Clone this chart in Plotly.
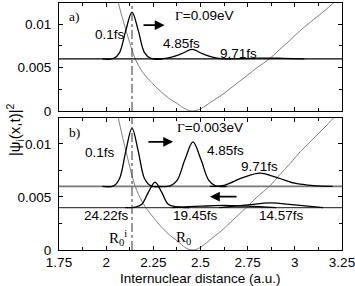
import plotly.graph_objects as go

# ---------------- data ----------------
R_pot = [2.06, 2.085, 2.11, 2.13, 2.153, 2.195, 2.24, 2.285, 2.33, 2.375, 2.40, 2.42, 2.44,
         2.46, 2.48, 2.50, 2.53, 2.566, 2.61, 2.656, 2.70, 2.746, 2.80, 2.868, 2.92, 2.974,
         3.03, 3.096, 3.16, 3.223, 3.25]
V_pot = [0.0128, 0.0108, 0.00895, 0.0075, 0.00605, 0.00442, 0.0033, 0.00233, 0.0015, 0.00088,
         0.0005, 0.00022, 0.00005, 0.0, 0.00008, 0.00025, 0.00065, 0.00118, 0.0018, 0.00256,
         0.0033, 0.00407, 0.005, 0.00605, 0.0071, 0.00814, 0.0093, 0.01047, 0.0116, 0.0128, 0.0133]

x_range = [1.75, 3.25]
base_hi = 0.006
base_lo = 0.004

# panel a) Gamma = 0.09 eV
a_01_R = [1.98, 2.04, 2.071, 2.104, 2.137, 2.170, 2.203, 2.237, 2.30]
a_01_V = [0.006, 0.00605, 0.00673, 0.00928, 0.0114, 0.00928, 0.00673, 0.00605, 0.006]
a_485_R = [2.25, 2.33, 2.40, 2.455, 2.51, 2.58, 2.66]
a_485_V = [0.006, 0.00612, 0.0066, 0.0071, 0.0066, 0.00612, 0.006]
a_971_R = [2.65, 2.78, 2.86, 2.94, 3.05]
a_971_V = [0.006, 0.00606, 0.0061, 0.00606, 0.006]

# panel b) Gamma = 0.003 eV
b_01_R = [1.98, 2.04, 2.071, 2.104, 2.137, 2.170, 2.203, 2.237, 2.30]
b_01_V = [0.006, 0.00605, 0.00675, 0.00933, 0.0115, 0.00933, 0.00675, 0.00605, 0.006]
b_485_R = [2.28, 2.34, 2.376, 2.418, 2.46, 2.502, 2.544, 2.58, 2.64]
b_485_V = [0.006, 0.00605, 0.00657, 0.00855, 0.0102, 0.00855, 0.00657, 0.00605, 0.006]
b_971_R = [2.55, 2.63, 2.72, 2.815, 2.91, 3.0, 3.1, 3.2]
b_971_V = [0.006, 0.00613, 0.0068, 0.00726, 0.0068, 0.0063, 0.00607, 0.006]
b_1457_R = [2.6, 2.75, 2.87, 3.0, 3.15]
b_1457_V = [0.004, 0.00425, 0.00445, 0.00425, 0.004]
b_1945_R = [2.35, 2.5, 2.62, 2.75, 2.9]
b_1945_V = [0.004, 0.00413, 0.0042, 0.00413, 0.004]
b_2422_R = [2.10, 2.155, 2.189, 2.224, 2.259, 2.294, 2.329, 2.37, 2.44]
b_2422_V = [0.004, 0.00405, 0.00432, 0.00546, 0.00641, 0.00546, 0.00432, 0.00408, 0.004]

R0_i = 2.137
y_tickvals = [0, 0.005, 0.01]
y_ticktext = ["0", "0.005", "0.01"]
x_tickvals = [1.75, 2, 2.25, 2.5, 2.75, 3, 3.25]
x_ticktext = ["1.75", "2", "2.25", "2.5", "2.75", "3", "3.25"]

# ---------------- figure ----------------
fig = go.Figure()
POT = dict(color="#707070", width=0.9)
PK = dict(color="black", width=1.3)

def add(xs, ys, line, xa, ya, shape="spline"):
    fig.add_trace(go.Scatter(x=xs, y=ys, mode="lines", line=dict(shape=shape, **line),
                             xaxis=xa, yaxis=ya, showlegend=False, hoverinfo="skip"))

# top panel (x, y)
add(R_pot, V_pot, POT, "x", "y")
add(x_range, [base_hi, base_hi], dict(color="black", width=1.2), "x", "y", "linear")
add(a_01_R, a_01_V, PK, "x", "y")
add(a_485_R, a_485_V, PK, "x", "y")
add(a_971_R, a_971_V, PK, "x", "y")

# bottom panel (x2, y2)
add(R_pot, V_pot, POT, "x2", "y2")
add(x_range, [base_hi, base_hi], dict(color="#777777", width=1.6), "x2", "y2", "linear")
add(x_range, [base_lo, base_lo], dict(color="#444444", width=1.2), "x2", "y2", "linear")
add(b_01_R, b_01_V, PK, "x2", "y2")
add(b_485_R, b_485_V, PK, "x2", "y2")
add(b_971_R, b_971_V, PK, "x2", "y2")
add(b_1945_R, b_1945_V, PK, "x2", "y2")
add(b_1457_R, b_1457_V, PK, "x2", "y2")
add(b_2422_R, b_2422_V, PK, "x2", "y2")

for xr, yr in (("x", "y"), ("x2", "y2")):
    fig.add_shape(type="line", xref=xr, yref=yr, x0=R0_i, x1=R0_i, y0=0, y1=0.0125,
                  line=dict(color="#333333", width=1, dash="dashdot"))

SANS = "Liberation Sans, Arial, sans-serif"
SERIF = "Liberation Serif, Times New Roman, serif"

def axis_common():
    return dict(showline=True, mirror="ticks", linecolor="black", linewidth=1,
                ticks="inside", ticklen=4, tickcolor="black", tickwidth=1,
                showgrid=False, zeroline=False, automargin=False,
                ticklabeloverflow="allow",
                tickfont=dict(family=SANS, size=13.5, color="black"))

xa = axis_common()
xa.update(range=x_range, tickvals=x_tickvals, ticktext=["", "", "", "", "", "", ""],
          minor=dict(ticks="inside", ticklen=3, dtick=0.125, tick0=1.75, tickcolor="black"),
          anchor="y", domain=[0, 1])
xa2 = axis_common()
xa2.update(range=x_range, tickvals=x_tickvals, ticktext=x_ticktext,
           minor=dict(ticks="inside", ticklen=3, dtick=0.125, tick0=1.75, tickcolor="black"),
           anchor="y2", domain=[0, 1])
ya = axis_common()
ya.update(range=[0, 0.01244], tickvals=y_tickvals, ticktext=y_ticktext,
          minor=dict(ticks="inside", ticklen=3, dtick=0.0025, tick0=0, tickcolor="black"),
          anchor="x", domain=[0.5628, 1], ticklabelstandoff=4)
ya2 = axis_common()
ya2.update(range=[0, 0.01245], tickvals=y_tickvals, ticktext=y_ticktext,
           minor=dict(ticks="inside", ticklen=3, dtick=0.0025, tick0=0, tickcolor="black"),
           anchor="x2", domain=[0, 0.5344], ticklabelstandoff=4)

ann = []
def txt(x, y, s, xr, yr, font=SANS, size=13.5, **kw):
    ann.append(dict(x=x, y=y, xref=xr, yref=yr, text=s, showarrow=False,
                    font=dict(family=font, size=size, color="black"), **kw))

def arrow(x0, y0, x1, y1, xr, yr):
    ann.append(dict(x=x1, y=y1, ax=x0, ay=y0, xref=xr, yref=yr, axref=xr, ayref=yr,
                    text="", showarrow=True, arrowhead=2, arrowsize=1.1, arrowwidth=1.8,
                    arrowcolor="black"))

# top labels
txt(1.795, 0.0109, "a)", "x", "y", font=SERIF, size=13.5, xanchor="left")
txt(2.02, 0.00884, "0.1fs", "x", "y")
txt(2.518, 0.0110, '<span style="font-family:Liberation Serif">Γ</span>=0.09eV', "x", "y")
txt(2.40, 0.0078, "4.85fs", "x", "y")
txt(2.70, 0.00663, "9.71fs", "x", "y")
arrow(2.19, 0.00989, 2.31, 0.00989, "x", "y")

# bottom labels
txt(1.795, 0.0111, "b)", "x2", "y2", font=SERIF, size=13.5, xanchor="left")
txt(1.967, 0.00924, "0.1fs", "x2", "y2")
txt(2.55, 0.0116, '<span style="font-family:Liberation Serif">Γ</span>=0.003eV', "x2", "y2")
txt(2.635, 0.00943, "4.85fs", "x2", "y2")
txt(2.813, 0.00783, "9.71fs", "x2", "y2")
txt(2.0, 0.0033, "24.22fs", "x2", "y2")
txt(2.475, 0.0033, "19.45fs", "x2", "y2")
txt(2.927, 0.0033, "14.57fs", "x2", "y2")
txt(2.065, 0.0011, "R<sub>0</sub><sup>i</sup>", "x2", "y2", font=SERIF, size=15)
txt(2.41, 0.0011, "R<sub>0</sub>", "x2", "y2", font=SERIF, size=15)
arrow(2.216, 0.0102, 2.355, 0.0102, "x2", "y2")
arrow(2.699, 0.00503, 2.55, 0.00503, "x2", "y2")

# axis titles
txt(0.5, -0.115, "Internuclear distance (a.u.)", "paper", "paper", size=13.5,
    xanchor="center", yanchor="middle")
txt(-0.155, 0.486, "|ψ<sub>i</sub>(x,t)|<sup>2</sup>", "paper", "paper", size=15,
    textangle=-90, xanchor="center", yanchor="middle")

fig.update_layout(width=355, height=286, margin=dict(l=59, r=13, t=3, b=36),
                  paper_bgcolor="white", plot_bgcolor="white",
                  xaxis=xa, xaxis2=xa2, yaxis=ya, yaxis2=ya2,
                  annotations=ann, showlegend=False)

fig.write_html("out.html", config={"displayModeBar": False},
               post_script="document.body.style.margin='0px';document.body.style.overflow='hidden';")
